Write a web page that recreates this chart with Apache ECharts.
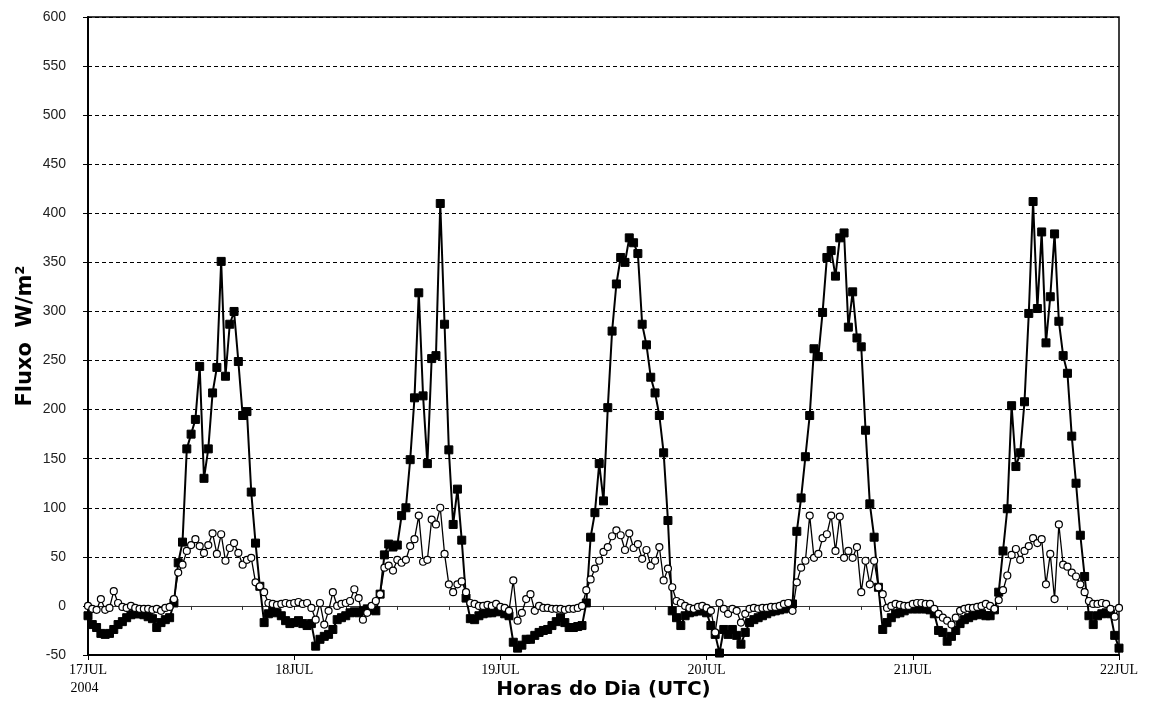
<!DOCTYPE html>
<html>
<head>
<meta charset="utf-8">
<script src="https://cdn.jsdelivr.net/npm/echarts@6/dist/echarts.min.js"></script>
<style>
  html, body { margin: 0; padding: 0; background: #fff; }
  #chart { width: 1149px; height: 706px; }
</style>
</head>
<body>
<div id="chart"></div>
<script>
// half-hourly values (W/m²), each day starts at 00:00 UTC
const squaresJul17 = [-10, -19, -22, -28, -29, -28, -24, -19, -16, -12, -9, -8, -8, -9, -11, -13, -22, -17, -14, -12,
  3, 44, 65, 160, 175, 190, 244, 130, 160, 217, 243, 351, 234, 287, 300, 249, 194, 198, 116, 64,
  20, -17, -8, -5, -7, -10, -15, -18];
const squaresJul18 = [-17, -15, -18, -20, -18, -41, -34, -31, -29, -24, -14, -12, -10, -7, -6, -7, -5, -3, -4, -5,
  12, 52, 63, 60, 62, 92, 100, 149, 212, 319, 214, 145, 252, 255, 410, 287, 159, 83, 119, 67,
  8, -13, -14, -10, -8, -7, -7, -6];
const squaresJul19 = [-5, -8, -10, -37, -43, -40, -34, -34, -30, -27, -25, -24, -20, -16, -12, -17, -22, -22, -21, -20,
  3, 70, 95, 145, 107, 202, 280, 328, 355, 350, 375, 370, 359, 287, 266, 233, 217, 194, 156, 87,
  -5, -12, -20, -10, -7, -6, -5, -5];
const squaresJul20 = [-7, -20, -29, -48, -24, -29, -24, -30, -39, -27, -17, -14, -12, -10, -8, -6, -5, -4, -3, -2,
  2, 76, 110, 152, 194, 262, 254, 299, 355, 362, 336, 375, 380, 284, 320, 273, 264, 179, 104, 70,
  19, -24, -17, -12, -8, -7, -5, -3];
const squaresJul21 = [-3, -3, -3, -3, -4, -8, -25, -27, -36, -31, -25, -18, -14, -12, -10, -9, -8, -10, -10, -4,
  14, 56, 99, 204, 142, 156, 208, 298, 412, 303, 381, 268, 315, 379, 290, 255, 237, 173, 125, 72,
  30, -10, -19, -10, -8, -7, -8, -30, -43];

const circlesJul17 = [0, -3, -4, 7, -4, -2, 15, 3, -1, -2, 0, -2, -3, -3, -3, -4, -3, -5, -2, -1,
  7, 34, 42, 56, 62, 68, 61, 54, 62, 74, 53, 73, 46, 59, 64, 54, 42, 47, 49, 24,
  20, 14, 3, 2, 1, 2, 3, 2];
const circlesJul18 = [3, 4, 2, 3, -2, -14, 3, -19, -5, 14, 0, 2, 3, 5, 17, 8, -14, -7, 0, 5,
  12, 39, 41, 36, 47, 44, 47, 61, 68, 92, 45, 47, 88, 83, 100, 53, 22, 14, 22, 25,
  14, 3, 2, 0, 0, 1, 0, 2];
const circlesJul19 = [-1, -2, -5, 26, -15, -7, 7, 12, -5, 0, -2, -2, -3, -3, -3, -4, -3, -3, -2, 0,
  16, 27, 38, 46, 55, 60, 71, 77, 72, 57, 74, 59, 63, 48, 57, 41, 46, 60, 26, 38,
  19, 5, 3, 0, -2, -3, -1, 0];
const circlesJul20 = [-2, -5, -27, 3, -3, -8, -3, -5, -17, -8, -3, -2, -3, -2, -2, -1, -1, 0, 2, 3,
  -5, 24, 39, 46, 92, 49, 53, 69, 73, 92, 56, 91, 49, 56, 49, 60, 14, 46, 22, 46,
  19, 12, -2, 0, 2, 1, 0, 0];
const circlesJul21 = [2, 3, 3, 2, 2, -3, -8, -12, -15, -19, -12, -5, -3, -2, -2, -1, 0, 2, 0, -3,
  6, 16, 31, 52, 58, 47, 56, 61, 69, 64, 68, 22, 53, 7, 83, 42, 40, 34, 30, 22,
  14, 5, 2, 2, 3, 2, -3, -11, -2];

const dayLabels = ['17JUL\n2004  ', '18JUL', '19JUL', '20JUL', '21JUL', '22JUL'];

const squares = [].concat(squaresJul17, squaresJul18, squaresJul19, squaresJul20, squaresJul21);
const circles = [].concat(circlesJul17, circlesJul18, circlesJul19, circlesJul20, circlesJul21);
const toPairs = arr => arr.map((v, i) => [i * 0.5, v]);

const chart = echarts.init(document.getElementById('chart'));

chart.setOption({
  animation: false,
  backgroundColor: '#fff',
  grid: {
    left: 88, right: 30, top: 17, bottom: 51,
    show: true, borderColor: '#000', borderWidth: 1.5,
    containLabel: false, outerBoundsMode: 'none'
  },
  xAxis: [
    {
      // zero line with 6-hour ticks
      type: 'value', position: 'top', min: 0, max: 120, interval: 6,
      axisLine: { onZero: true, lineStyle: { color: '#333', width: 1 } },
      axisTick: { show: true, inside: true, length: 4, lineStyle: { color: '#333' } },
      axisLabel: { show: false },
      splitLine: { show: false }
    },
    {
      type: 'value', position: 'bottom', min: 0, max: 120, interval: 24,
      axisLine: { onZero: false, lineStyle: { color: '#000', width: 2 } },
      axisTick: { show: true, length: 5, lineStyle: { color: '#000', width: 1 } },
      axisLabel: {
        color: '#000', fontFamily: 'Liberation Serif', fontSize: 14, lineHeight: 18, margin: 6,
        formatter: v => dayLabels[Math.round(v / 24)]
      },
      splitLine: { show: false },
      name: 'Horas do Dia (UTC)', nameLocation: 'middle', nameGap: 25, nameMoveOverlap: false,
      nameTextStyle: { fontFamily: 'DejaVu Sans', fontWeight: 'bold', fontSize: 20, color: '#000' }
    }
  ],
  yAxis: {
    type: 'value', min: -50, max: 600, interval: 50,
    axisLine: { show: true, onZero: false, lineStyle: { color: '#000', width: 2 } },
    axisTick: { show: true, length: 5, lineStyle: { color: '#000' } },
    axisLabel: { color: '#222', fontFamily: 'Liberation Sans', fontSize: 14, margin: 22 },
    splitLine: { show: true, lineStyle: { color: '#000', width: 1, type: [4, 3] } },
    name: 'Fluxo  W/m²', nameLocation: 'middle', nameGap: 52, nameMoveOverlap: false,
    nameTextStyle: { fontFamily: 'DejaVu Sans', fontWeight: 'bold', fontSize: 21, color: '#000' }
  },
  series: [
    {
      type: 'line', xAxisIndex: 1, data: toPairs(squares),
      symbol: 'rect', symbolSize: 8,
      itemStyle: { color: '#000', borderColor: '#000' },
      lineStyle: { color: '#000', width: 2 },
      z: 3
    },
    {
      type: 'line', xAxisIndex: 1, data: toPairs(circles),
      symbol: 'circle', symbolSize: 7,
      itemStyle: { color: '#fff', borderColor: '#000', borderWidth: 1.2 },
      lineStyle: { color: '#000', width: 1.3 },
      z: 4
    }
  ]
});
</script>
</body>
</html>
